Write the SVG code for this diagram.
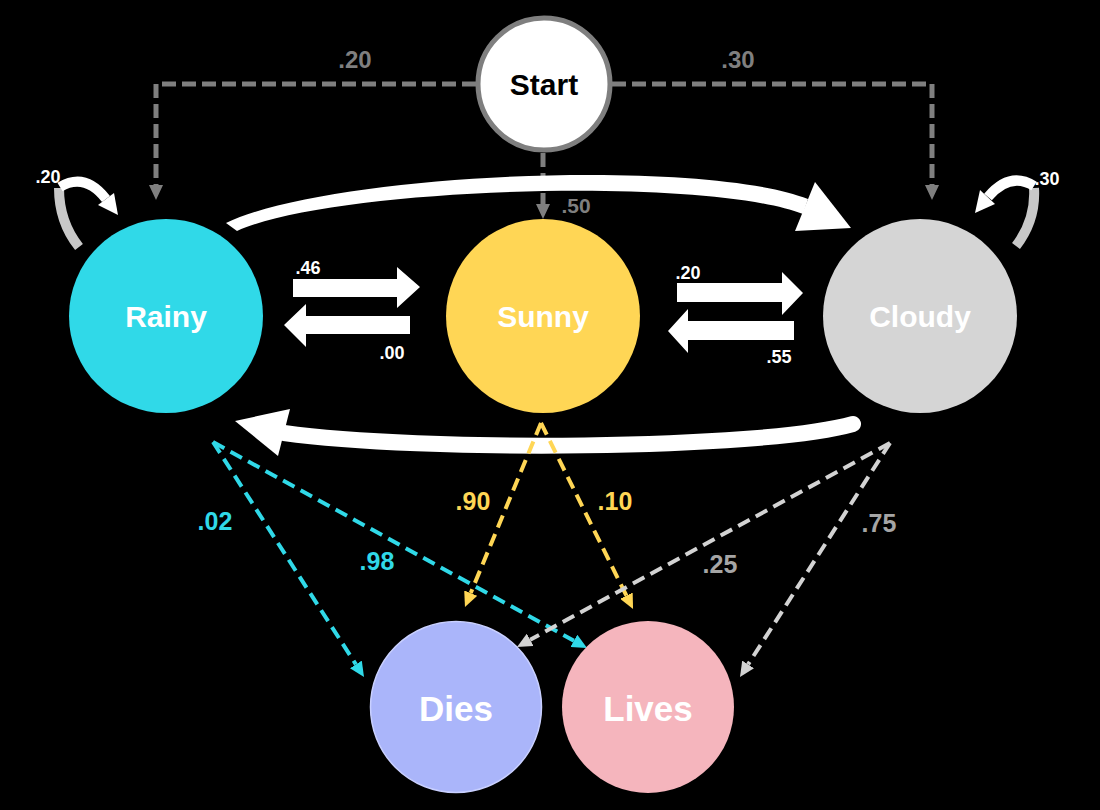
<svg xmlns="http://www.w3.org/2000/svg" width="1100" height="810" viewBox="0 0 1100 810">
<defs>
<style>
text{font-family:"Liberation Sans",Arial,sans-serif;font-weight:bold;text-anchor:middle}
.node-t{font-size:30px;fill:#fff}
.big-t{font-size:35px;fill:#fff}
.band{fill:none;stroke:#fff}
.loopg{fill:none;stroke:#C8C8C8;stroke-width:10}
.loopw{fill:none;stroke:#fff;stroke-width:10}
.gdash{fill:none;stroke:#7F7F7F;stroke-width:5;stroke-dasharray:14 6}
.dash{fill:none;stroke-width:4;stroke-dasharray:13 7}
.cy{stroke:#30D9E8}
.ye{stroke:#FFD655}
.lg{stroke:#D3D3D3}
.blk{fill:#fff}
.lbl-s{font-size:18px;fill:#fff}
.lbl-g{font-size:24px;fill:#7F7F7F}
.lbl-b{font-size:25px}
</style>
<marker id="mG" viewBox="0 0 15 14" refX="0" refY="7" markerWidth="15" markerHeight="14" markerUnits="userSpaceOnUse" orient="auto"><path d="M0,0 L15,7 L0,14 z" fill="#7F7F7F"/></marker>
<marker id="mC" viewBox="0 0 15 14" refX="0" refY="7" markerWidth="15" markerHeight="14" markerUnits="userSpaceOnUse" orient="auto"><path d="M0,0 L15,7 L0,14 z" fill="#30D9E8"/></marker>
<marker id="mY" viewBox="0 0 15 14" refX="0" refY="7" markerWidth="15" markerHeight="14" markerUnits="userSpaceOnUse" orient="auto"><path d="M0,0 L15,7 L0,14 z" fill="#FFD655"/></marker>
<marker id="mL" viewBox="0 0 15 14" refX="0" refY="7" markerWidth="15" markerHeight="14" markerUnits="userSpaceOnUse" orient="auto"><path d="M0,0 L15,7 L0,14 z" fill="#D3D3D3"/></marker>
</defs>
<rect width="1100" height="810" fill="#000"/>

<g id="connectors">
  <!-- start dashed -->
  <path class="gdash" d="M476,84 H156 V185" marker-end="url(#mG)"/>
  <path class="gdash" d="M612,84 H932 V185" marker-end="url(#mG)"/>
  <path class="gdash" d="M543,153 V204" marker-end="url(#mG)"/>
  <!-- big bands -->
  <path class="blk" d="M226,223 C330,173 700,157 808,199 L803,214 C700,175 330,188 237,231 Z"/>
  <polygon class="blk" points="815,182 795,231 851,228"/>
  <path class="band" stroke-width="16" stroke-linecap="round" d="M853,424 C760,450 420,452 284,433"/>
  <polygon class="blk" points="290,409 278,456 235,421"/>
  <!-- self loops -->
  <path class="loopg" d="M59,188 Q59,222 79,247"/>
  <path class="loopw" d="M60,187 Q85,172 106,199"/>
  <polygon class="blk" points="98,205 114,193 118,215"/>
  <path class="loopg" d="M1034,188 Q1036,220 1016,246"/>
  <path class="loopw" d="M1034,186 Q1010,171 988,197"/>
  <polygon class="blk" points="995,204 980,190 975,213"/>
  <!-- block arrows -->
  <polygon class="blk" points="293,279 397,279 397,267 420,287 397,308 397,297 293,297"/>
  <polygon class="blk" points="410,316 306,316 306,304 284,325 306,347 306,334 410,334"/>
  <polygon class="blk" points="677,283 782,283 782,272 803,293 782,315 782,302 677,302"/>
  <polygon class="blk" points="794,321 688,321 688,309 668,331 688,353 688,340 794,340"/>
  <!-- bottom dashed -->
  <path class="dash cy" d="M213,442 L355.9,664.4" marker-end="url(#mC)"/>
  <path class="dash cy" d="M213,442 L573.9,640.8" marker-end="url(#mC)"/>
  <path class="dash ye" d="M541,423 L470.7,593.1" marker-end="url(#mY)"/>
  <path class="dash ye" d="M541,423 L626.4,595.6" marker-end="url(#mY)"/>
  <path class="dash lg" d="M890,443 L530.2,639.8" marker-end="url(#mL)"/>
  <path class="dash lg" d="M890,443 L748.1,664.4" marker-end="url(#mL)"/>
</g>

<g id="start">
  <circle cx="544" cy="84" r="66" fill="#fff" stroke="#7F7F7F" stroke-width="5"/>
  <text x="544" y="95" style="font-size:30px;fill:#000">Start</text>
</g>
<g id="rainy">
  <circle cx="166" cy="316" r="97" fill="#30D9E8"/>
  <text class="node-t" x="166" y="327">Rainy</text>
</g>
<g id="sunny">
  <circle cx="543" cy="316" r="97" fill="#FFD655"/>
  <text class="node-t" x="543" y="327">Sunny</text>
</g>
<g id="cloudy">
  <circle cx="920" cy="316" r="97" fill="#D5D5D5"/>
  <text class="node-t" x="920" y="327">Cloudy</text>
</g>
<g id="dies">
  <circle cx="456" cy="707" r="85.5" fill="#AAB5FA" stroke="#C9D0FF" stroke-width="1.5"/>
  <text class="big-t" x="456" y="721">Dies</text>
</g>
<g id="lives">
  <circle cx="648" cy="707" r="86" fill="#F5B5BD"/>
  <text class="big-t" x="648" y="721">Lives</text>
</g>

<g id="labels">
  <text class="lbl-g" x="355" y="68">.20</text>
  <text class="lbl-g" x="738" y="68">.30</text>
  <text x="576" y="213" style="font-size:21px;fill:#7F7F7F">.50</text>
  <text class="lbl-s" x="48" y="183">.20</text>
  <text class="lbl-s" x="1047" y="185">.30</text>
  <text class="lbl-s" x="308" y="274">.46</text>
  <text class="lbl-s" x="392" y="359">.00</text>
  <text class="lbl-s" x="688" y="279">.20</text>
  <text class="lbl-s" x="779" y="363">.55</text>
  <text class="lbl-b" x="215" y="530" fill="#30D9E8">.02</text>
  <text class="lbl-b" x="377" y="570" fill="#30D9E8">.98</text>
  <text class="lbl-b" x="473" y="510" fill="#FFD655">.90</text>
  <text class="lbl-b" x="615" y="510" fill="#FFD655">.10</text>
  <text class="lbl-b" x="720" y="573" fill="#A5A5A5">.25</text>
  <text class="lbl-b" x="879" y="532" fill="#A5A5A5">.75</text>
</g>
</svg>
